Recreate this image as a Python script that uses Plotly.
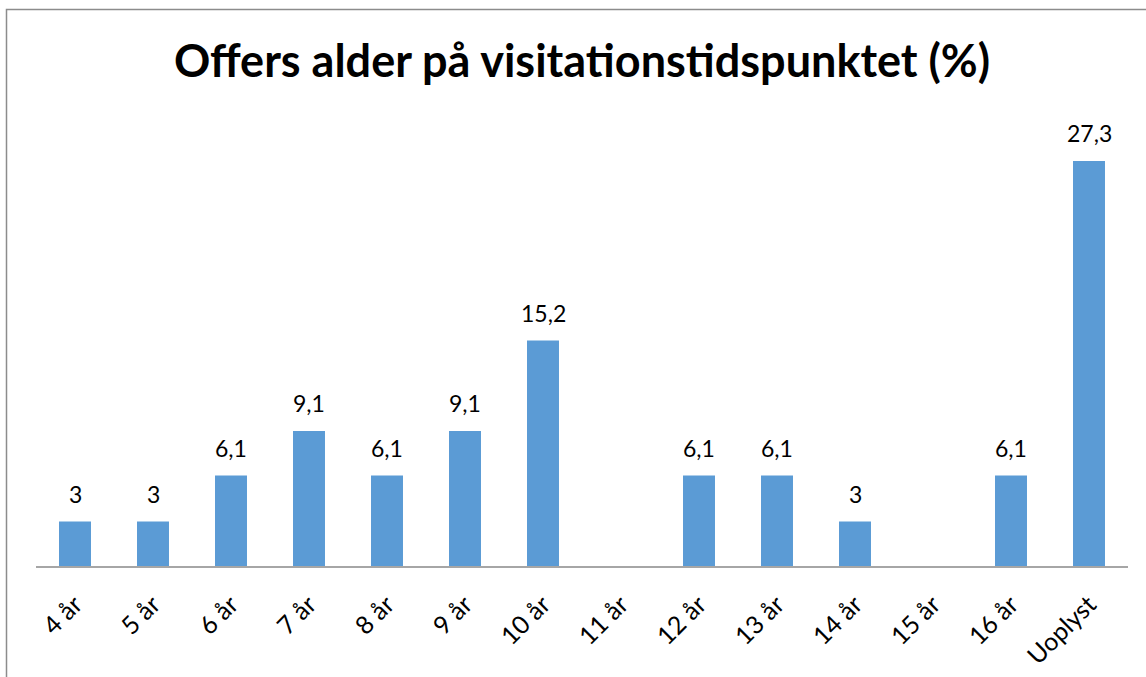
import plotly.graph_objects as go

categories = ["4 år", "5 år", "6 år", "7 år", "8 år", "9 år", "10 år", "11 år",
              "12 år", "13 år", "14 år", "15 år", "16 år", "Uoplyst"]
values = [3, 3, 6.1, 9.1, 6.1, 9.1, 15.2, None, 6.1, 6.1, 3, None, 6.1, 27.3]
labels = [("" if v is None else (str(v).replace(".", ",") if v % 1 else str(int(v)))) for v in values]

W, H = 1146, 677
L, R, T, B = 36, 18, 121, 111
pw, ph = W - L - R, H - T - B

fig = go.Figure(go.Bar(
    x=categories, y=values,
    marker=dict(color="#5B9BD5", line=dict(width=0)),
    width=0.41, cliponaxis=False, hoverinfo="x+y",
))

for c, v, t in zip(categories, values, labels):
    if v is None:
        continue
    fig.add_annotation(x=c, y=v, xref="x", yref="y", text=t, showarrow=False,
                       yanchor="bottom", yshift=12,
                       font=dict(family="Lato", size=23, color="#000000"))

def px_x(p):
    return (p - L) / pw

def px_y(p):
    return (H - B - p) / ph

fig.add_shape(type="rect", xref="paper", yref="paper",
              x0=px_x(6.5), x1=px_x(W + 10), y0=px_y(H + 10), y1=px_y(9.5),
              line=dict(color="#8c8c8c", width=1.5), fillcolor="rgba(0,0,0,0)", layer="below")

fig.update_layout(
    width=W, height=H,
    margin=dict(l=L, r=R, t=T, b=B, autoexpand=False),
    paper_bgcolor="white", plot_bgcolor="white",
    showlegend=False,
    title=dict(text="<b>Offers alder på visitationstidspunktet (%)</b>",
               font=dict(family="Lato", size=45, color="#000000"),
               x=582 / W, xanchor="center", xref="container",
               y=1 - 61 / H, yanchor="middle", yref="container"),
    xaxis=dict(tickangle=-45, tickfont=dict(family="Lato", size=25, color="#000000"),
               showline=True, linecolor="#a6a6a6", linewidth=2, automargin=False,
               ticks="", showgrid=False, zeroline=False, ticklabelstandoff=12),
    yaxis=dict(range=[0, 30], visible=False, showgrid=False, zeroline=False, automargin=False),
    bargap=0.59,
)

fig.write_html("out.html", config={"displayModeBar": False},
               post_script="document.body.style.margin='0';document.body.style.overflow='hidden';")
